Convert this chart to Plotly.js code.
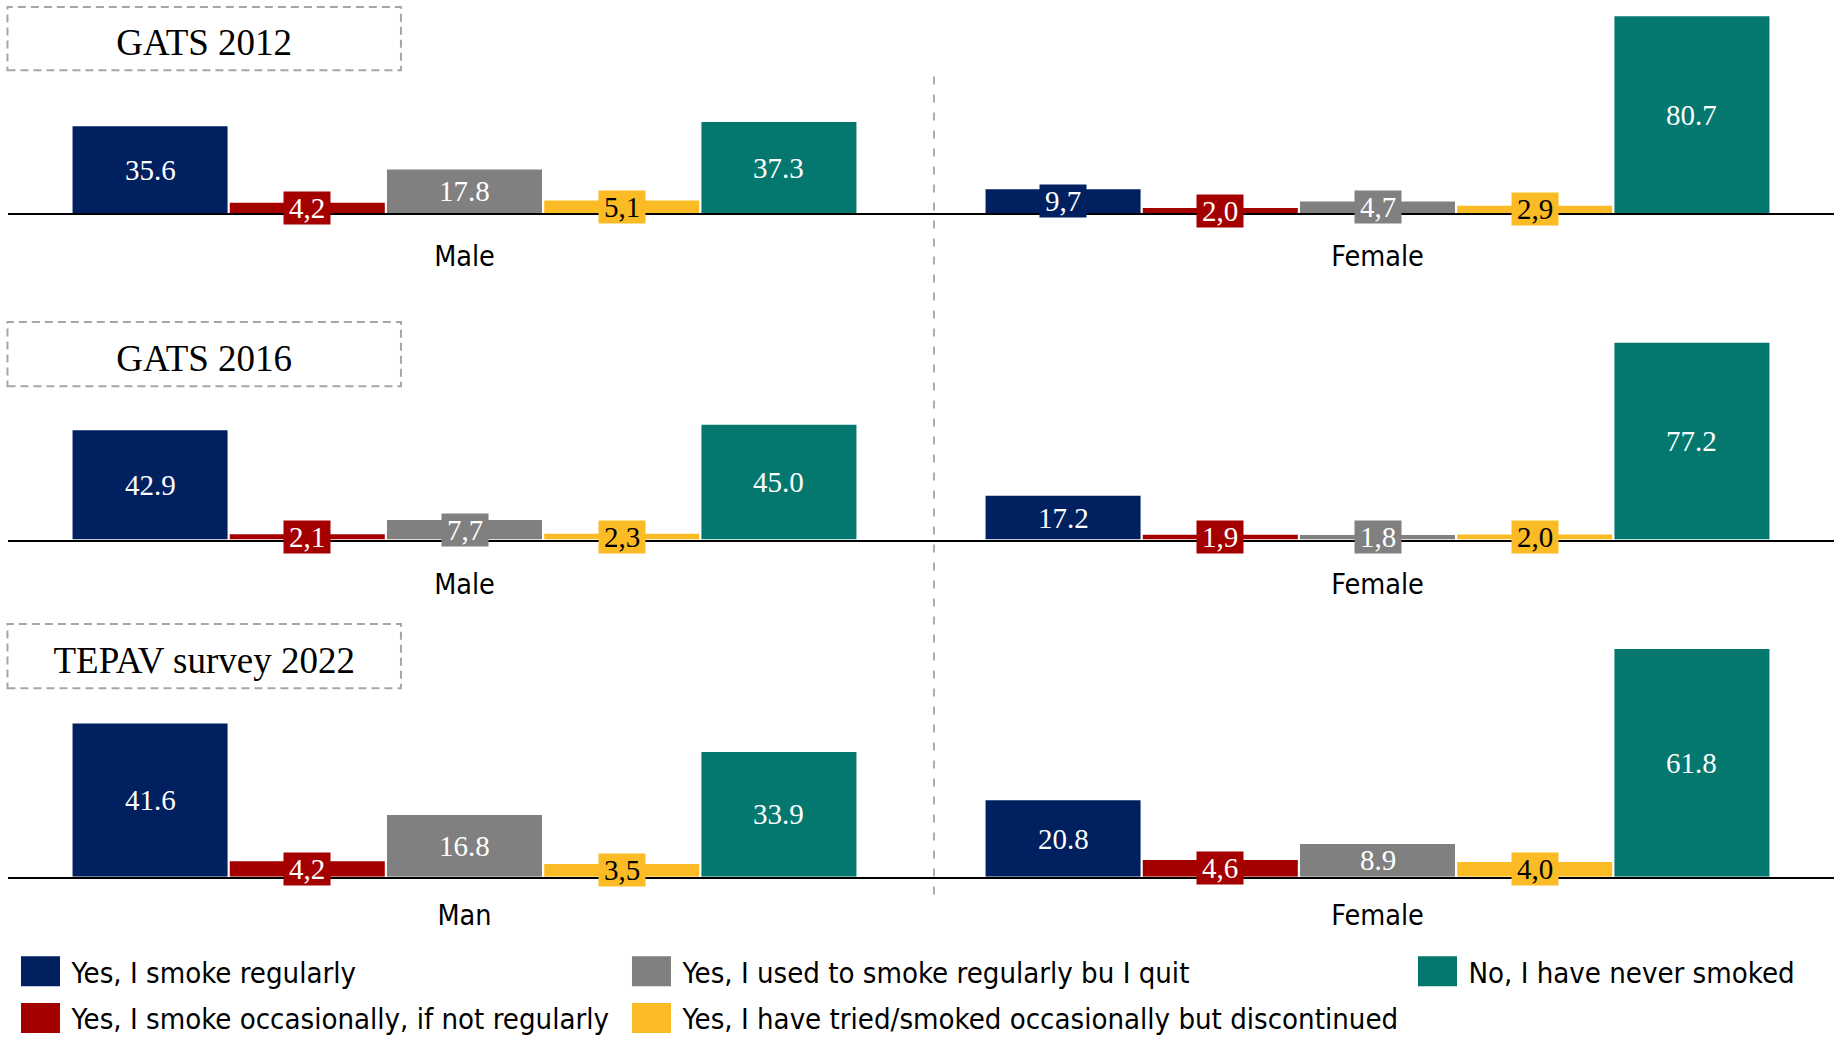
<!DOCTYPE html>
<html>
<head>
<meta charset="utf-8">
<script src="https://cdn.plot.ly/plotly-3.0.1.min.js"></script>
<style>
  html, body { margin: 0; padding: 0; background: #ffffff; }
  #chart { width: 1835px; height: 1044px; }
</style>
</head>
<body>
<div id="chart"></div>
<script>
// Smoking status by sex, three surveys (values in %)
const panelTitles = ['GATS 2012', 'GATS 2016', 'TEPAV survey 2022'];
const panelGroups = [['Male', 'Female'], ['Male', 'Female'], ['Man', 'Female']];

const seriesNames = [
  'Yes, I smoke regularly',
  'Yes, I smoke occasionally, if not regularly',
  'Yes, I used to smoke regularly bu I quit',
  'Yes, I have tried/smoked occasionally but discontinued',
  'No, I have never smoked'
];
const seriesColors = ['#002060', '#A50000', '#808080', '#FBBB24', '#04786F'];
const labelColors  = ['#FFFFFF', '#FFFFFF', '#FFFFFF', '#000000', '#FFFFFF'];

// [panel][male/man, female]
const smokeRegularly    = [[35.6, 9.7], [42.9, 17.2], [41.6, 20.8]];
const smokeOccasionally = [[4.2, 2.0], [2.1, 1.9], [4.2, 4.6]];
const usedToSmoke       = [[17.8, 4.7], [7.7, 1.8], [16.8, 8.9]];
const triedDiscontinued = [[5.1, 2.9], [2.3, 2.0], [3.5, 4.0]];
const neverSmoked       = [[37.3, 80.7], [45.0, 77.2], [33.9, 61.8]];

const seriesValues = [smokeRegularly, smokeOccasionally, usedToSmoke, triedDiscontinued, neverSmoked];
const seriesLegend = ['legend', 'legend', 'legend2', 'legend2', 'legend3'];

// Layout geometry
const W = 1835, H = 1044;
const panelDomains = [[0.79406, 0.99904], [0.47816, 0.67548], [0.15200, 0.38007]];
const panelRanges  = [87, 80, 64];
const labelStandoff = [17, 18, 12];
const bargap = 0.139, bargroupgap = 0.014;

const serif = 'Liberation Serif, Times New Roman, serif';
const sans = 'DejaVu Sans Condensed, DejaVu Sans, sans-serif';

const axisSuffix = ['', '2', '3'];
const traces = [];
const annotations = [];

const groupWidth = 1 - bargap;
const slot = groupWidth / seriesNames.length;

panelTitles.forEach((title, p) => {
  const xa = 'x' + axisSuffix[p], ya = 'y' + axisSuffix[p];
  const pxPerUnit = (panelDomains[p][1] - panelDomains[p][0]) * H / panelRanges[p];
  seriesNames.forEach((name, s) => {
    const vals = seriesValues[s][p];
    traces.push({
      type: 'bar',
      name: name,
      x: panelGroups[p],
      y: vals,
      xaxis: xa,
      yaxis: ya,
      marker: { color: seriesColors[s], line: { width: 0 } },
      legend: seriesLegend[s],
      legendgroup: 'g' + s,
      showlegend: p === 0,
      hovertemplate: name + '<br>%{x}: %{y:.1f}<extra>' + title + '</extra>'
    });
    vals.forEach((v, g) => {
      // short bars get their value in a colour box across the baseline
      const boxed = v * pxPerUnit < 30;
      const txt = boxed ? v.toFixed(1).replace('.', ',') : v.toFixed(1);
      const ann = {
        xref: xa, yref: ya,
        x: g - groupWidth / 2 + slot * (s + 0.5),
        y: v / 2,
        text: txt,
        showarrow: false,
        xanchor: 'center', yanchor: 'middle',
        font: { family: serif, size: 29, color: labelColors[s] },
        borderpad: 0
      };
      if (boxed) {
        ann.bgcolor = seriesColors[s];
        ann.width = 46;
        ann.height = 32;
      }
      annotations.push(ann);
    });
  });
});

// Dashed title boxes, one per survey
const titleBoxes = [[0.99330, 0.93199], [0.68870, 0.62644], [0.39655, 0.33429]];
const shapes = panelTitles.map((t, p) => ({
  type: 'rect', xref: 'paper', yref: 'paper',
  x0: -0.0003, x1: 0.2152, y0: titleBoxes[p][1], y1: titleBoxes[p][0],
  line: { color: '#A6A6A6', width: 2, dash: '8px,5px' },
  fillcolor: 'rgba(0,0,0,0)',
  label: { text: t, font: { family: serif, size: 37, color: '#000000' }, textposition: 'middle center' }
}));
// Divider between the male and female groups
shapes.push({
  type: 'line', xref: 'paper', yref: 'paper',
  x0: 0.5071, x1: 0.5071, y0: 0.1350, y1: 0.9339,
  line: { color: '#ABABAB', width: 2, dash: '8px,10px' }
});

function legendBox(x) {
  return {
    x: x, y: 0.0853, xanchor: 'left', yanchor: 'top', orientation: 'v',
    bgcolor: 'rgba(0,0,0,0)',
    font: { family: sans, size: 29.1, color: '#000000' },
    itemwidth: 52, tracegroupgap: 6
  };
}

const layout = {
  width: W, height: H,
  margin: { l: 8, r: 1, t: 0, b: 0, pad: 0 },
  paper_bgcolor: '#ffffff', plot_bgcolor: 'rgba(0,0,0,0)',
  barmode: 'group', bargap: bargap, bargroupgap: bargroupgap,
  annotations: annotations,
  shapes: shapes,
  hovermode: 'closest',
  legend: legendBox(0.00082),
  legend2: legendBox(0.33543),
  legend3: legendBox(0.76588)
};

panelTitles.forEach((t, p) => {
  const xk = 'xaxis' + axisSuffix[p], yk = 'yaxis' + axisSuffix[p];
  layout[xk] = {
    type: 'category', domain: [0, 1], range: [-0.5, 1.5],
    anchor: 'y' + axisSuffix[p],
    showline: true, linecolor: '#000000', linewidth: 2,
    ticks: '', showgrid: false, zeroline: false,
    ticklabelstandoff: labelStandoff[p],
    tickfont: { family: sans, size: 28.5, color: '#000000' },
    fixedrange: true
  };
  layout[yk] = {
    domain: panelDomains[p], range: [0, panelRanges[p]],
    anchor: 'x' + axisSuffix[p],
    visible: false, fixedrange: true
  };
});

// Larger square swatches in the legends
function enlargeSwatches(gd) {
  gd.querySelectorAll('.legendpoints path').forEach(function (el) {
    el.setAttribute('d', 'M19.5,15H-19.5V-15H19.5Z');
  });
}

Plotly.newPlot('chart', traces, layout, { displayModeBar: false, responsive: false }).then(function (gd) {
  enlargeSwatches(gd);
  gd.on('plotly_afterplot', function () { enlargeSwatches(gd); });
});
</script>
</body>
</html>
